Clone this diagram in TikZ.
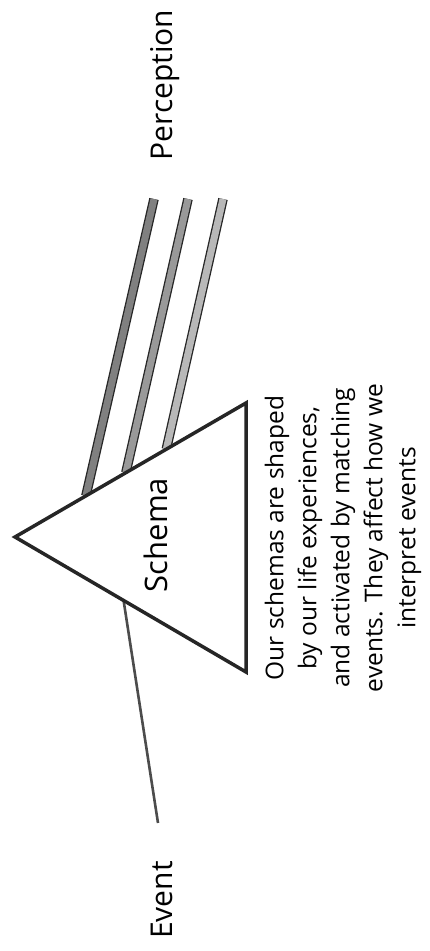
\documentclass[tikz,border=0pt]{standalone}
\usepackage{fontspec}
\setmainfont{Open Sans}
\usetikzlibrary{calc}
\begin{document}
\begin{tikzpicture}[x=1pt,y=1pt,
  lbl/.style={rotate=90,inner sep=0pt,font=\fontsize{30}{36}\selectfont},
  ray/.style={draw=black!85,line width=1.3pt,double distance=7pt,double=#1}]
  \useasboundingbox (0,0) rectangle (429,951);
  % triangle corners
  \coordinate (apex) at (15,414);
  \coordinate (top) at (246,548);
  \coordinate (bot) at (246,279);
  \node[lbl] (event) at (162,51) {Event};
  \node[lbl] (perc) at (165,866) {Perception};
  \coordinate (ev) at (158,128);
  \coordinate (p1) at (154,752);
  \coordinate (p2) at (188,752);
  \coordinate (p3) at (223,752);
  \draw[line width=2.6pt,black!70] (ev) -- ($(apex)!0.47!(bot)$);
  \draw[ray=black!50] (p1) -- ($(apex)!0.307!(top)$);
  \draw[ray=black!40] (p2) -- ($(apex)!0.48!(top)$);
  \draw[ray=black!28] (p3) -- ($(apex)!0.655!(top)$);
  \draw[line width=3.5pt,black!85,fill=white,line join=miter] (apex) -- (top) -- (bot) -- cycle;
  \node[lbl,font=\fontsize{31}{36}\selectfont] (schema) at (156,416) {Schema};
  \node[lbl,align=center,font=\fontsize{24.5}{33}\selectfont] (note) at (343,413)
       {Our schemas are shaped\\ by our life experiences,\\ and activated by matching\\
        events. They affect how we\\ interpret events};
\end{tikzpicture}
\end{document}
